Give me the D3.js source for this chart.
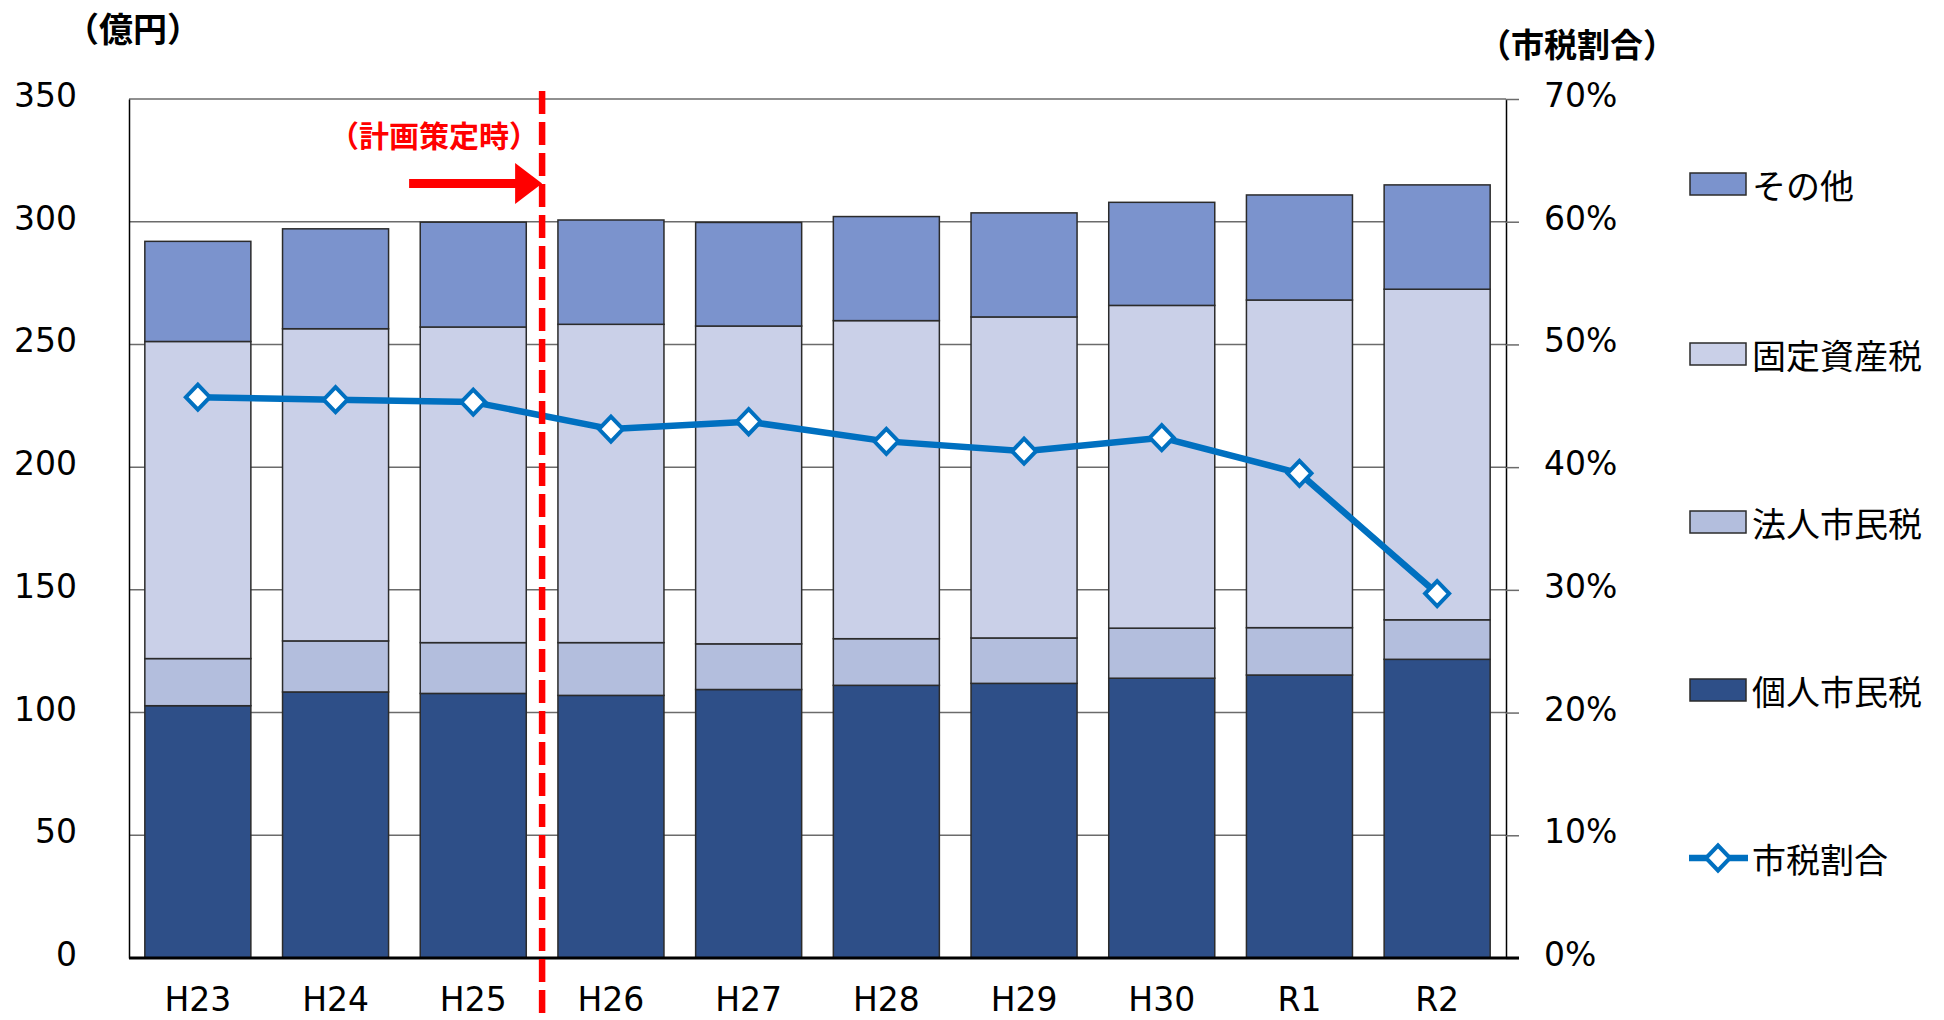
<!DOCTYPE html>
<meta charset="utf-8">
<style>
body { margin: 0; background: #fff; }
svg { display: block; }
.num { font-family: "DejaVu Sans", Verdana, sans-serif; font-size: 33px; fill: #000; }
.jp { font-family: "Noto Sans CJK JP", sans-serif; fill: #000; }
</style>
<body>
<script src="https://d3js.org/d3.v7.min.js"></script>
<script>
var width = 1944,
    height = 1020;

// data (億円, ratio)
var years = ["H23", "H24", "H25", "H26", "H27", "H28", "H29", "H30", "R1", "R2"];
var kojin = [102.8, 108.4, 107.8, 107.0, 109.4, 111.1, 111.9, 114.0, 115.3, 121.7];
var hojin = [19.2, 20.8, 20.7, 21.5, 18.6, 19.0, 18.5, 20.4, 19.3, 16.1];
var kotei = [129.2, 127.2, 128.6, 129.7, 129.5, 129.6, 130.8, 131.5, 133.5, 134.7];
var sonota = [40.8, 40.7, 42.7, 42.5, 42.2, 42.4, 42.4, 42.0, 42.8, 42.5];
var ratio = [0.457, 0.455, 0.453, 0.431, 0.437, 0.421, 0.413, 0.424, 0.395, 0.297];

var seriesKeys = ["個人市民税", "法人市民税", "固定資産税", "その他"];
var seriesColors = ["#2E4F88", "#B3BEDD", "#CAD0E8", "#7B93CD"];
var legendOrder = ["その他", "固定資産税", "法人市民税", "個人市民税"];
var leftTicks = [0, 50, 100, 150, 200, 250, 300, 350];
var rightTicks = [0, 0.1, 0.2, 0.3, 0.4, 0.5, 0.6, 0.7];
var planYear = "H26"; // plan line sits just before this year

var margin = {left: 129, right: 1506, top: 99, bottom: 958};
var lineColor = "#0070C0";

var svg = d3.select("body").append("svg")
    .attr("width", width)
    .attr("height", height);

var x = d3.scaleBand()
    .domain(years)
    .range([margin.left, margin.right])
    .paddingInner(0.23)
    .paddingOuter(0.115);

var y = d3.scaleLinear().domain([0, 350]).range([margin.bottom, margin.top]);
var yR = d3.scaleLinear().domain([0, 0.7]).range([margin.bottom, margin.top]);

var rows = years.map(function(yr, i) {
  return {year: yr, "個人市民税": kojin[i], "法人市民税": hojin[i], "固定資産税": kotei[i], "その他": sonota[i]};
});
var stacked = d3.stack().keys(seriesKeys)(rows);
var color = d3.scaleOrdinal().domain(seriesKeys).range(seriesColors);

// gridlines
svg.append("g")
  .selectAll("line")
  .data(leftTicks.filter(function(d) { return d > 0; }))
  .join("line")
    .attr("x1", margin.left)
    .attr("x2", margin.right)
    .attr("y1", function(d) { return y(d); })
    .attr("y2", function(d) { return y(d); })
    .attr("stroke", "#6b6b6b")
    .attr("stroke-width", 1.5);

// stacked bars
svg.append("g")
  .selectAll("g")
  .data(stacked)
  .join("g")
    .attr("fill", function(d) { return color(d.key); })
  .selectAll("rect")
  .data(function(d) { return d; })
  .join("rect")
    .attr("x", function(d) { return x(d.data.year); })
    .attr("width", x.bandwidth())
    .attr("y", function(d) { return y(d[1]); })
    .attr("height", function(d) { return y(d[0]) - y(d[1]); })
    .attr("stroke", "#2b2b2b")
    .attr("stroke-width", 1.5);

// left axis
var gL = svg.append("g")
    .attr("transform", "translate(" + margin.left + ",0)")
    .call(d3.axisLeft(y).tickValues(leftTicks).tickSize(0).tickPadding(52));
gL.select(".domain").attr("stroke", "#000").attr("stroke-width", 1.5);
gL.selectAll("text").attr("class", "num").attr("font-family", null).attr("font-size", null).attr("y", -3);

// right axis
var gR = svg.append("g")
    .attr("transform", "translate(" + margin.right + ",0)")
    .call(d3.axisRight(yR).tickValues(rightTicks).tickFormat(d3.format(".0%")).tickSize(13).tickSizeOuter(0).tickPadding(25));
gR.select(".domain").attr("stroke", "#000").attr("stroke-width", 1.5);
gR.selectAll(".tick line").attr("stroke", "#6b6b6b").attr("stroke-width", 1.5);
gR.selectAll("text").attr("class", "num").attr("font-family", null).attr("font-size", null).attr("y", -3);

// bottom axis
var gB = svg.append("g")
    .attr("transform", "translate(0," + margin.bottom + ")")
    .call(d3.axisBottom(x).tickSize(0).tickPadding(30));
gB.select(".domain").remove();
gB.selectAll("text").attr("class", "num").attr("font-family", null).attr("font-size", null);
svg.append("line")
    .attr("x1", margin.left).attr("x2", margin.right + 13)
    .attr("y1", margin.bottom).attr("y2", margin.bottom)
    .attr("stroke", "#000").attr("stroke-width", 3);

// ratio line
var cx = function(yr) { return x(yr) + x.bandwidth() / 2; };
var lineData = years.map(function(yr, i) { return [cx(yr), yR(ratio[i])]; });
svg.append("path")
    .attr("d", d3.line()(lineData))
    .attr("fill", "none")
    .attr("stroke", lineColor)
    .attr("stroke-width", 6.5)
    .attr("stroke-linejoin", "round");

function diamond(sel) {
  sel.attr("d", "M0,-12.5L12,0L0,12.5L-12,0Z")
    .attr("fill", "#fff")
    .attr("stroke", lineColor)
    .attr("stroke-width", 4);
}
svg.append("g")
  .selectAll("path")
  .data(lineData)
  .join("path")
    .attr("transform", function(d) { return "translate(" + d[0] + "," + d[1] + ")"; })
    .call(diamond);

// plan annotation
var step = x.step();
var planX = cx(planYear) - step / 2;
svg.append("line")
    .attr("x1", planX).attr("x2", planX)
    .attr("y1", 91).attr("y2", height)
    .attr("stroke", "#FF0000")
    .attr("stroke-width", 6.5)
    .attr("stroke-dasharray", "23,8");
svg.append("rect")
    .attr("x", planX - 133).attr("y", 179)
    .attr("width", 108).attr("height", 9)
    .attr("fill", "#FF0000");
svg.append("path")
    .attr("d", "M" + (planX - 27) + ",163L" + (planX) + ",183.5L" + (planX - 27) + ",204Z")
    .attr("fill", "#FF0000");
svg.append("text")
    .attr("class", "jp")
    .attr("x", planX - 108).attr("y", 134)
    .attr("text-anchor", "middle")
    .attr("dominant-baseline", "central")
    .attr("font-size", 30)
    .attr("font-weight", "bold")
    .style("fill", "#FF0000")
    .text("（計画策定時）");

// axis titles
svg.append("text")
    .attr("class", "jp")
    .attr("x", 133).attr("y", 27)
    .attr("text-anchor", "middle")
    .attr("dominant-baseline", "central")
    .attr("font-size", 34)
    .attr("font-weight", "bold")
    .text("（億円）");
svg.append("text")
    .attr("class", "jp")
    .attr("x", 1577).attr("y", 43)
    .attr("text-anchor", "middle")
    .attr("dominant-baseline", "central")
    .attr("font-size", 33)
    .attr("font-weight", "bold")
    .text("（市税割合）");

// legend
var legY = [184, 354, 522, 690];
var leg = svg.append("g");
legendOrder.forEach(function(k, i) {
  leg.append("rect")
      .attr("x", 1690).attr("y", legY[i] - 11)
      .attr("width", 56).attr("height", 22)
      .attr("fill", color(k))
      .attr("stroke", "#2b2b2b")
      .attr("stroke-width", 1.5);
  leg.append("text")
      .attr("class", "jp")
      .attr("x", 1752).attr("y", legY[i])
      .attr("dominant-baseline", "central")
      .attr("font-size", 34)
      .text(k);
});
leg.append("line")
    .attr("x1", 1689).attr("x2", 1748)
    .attr("y1", 858).attr("y2", 858)
    .attr("stroke", lineColor).attr("stroke-width", 6.5);
leg.append("path")
    .attr("transform", "translate(1718,858)")
    .call(diamond);
leg.append("text")
    .attr("class", "jp")
    .attr("x", 1752).attr("y", 858)
    .attr("dominant-baseline", "central")
    .attr("font-size", 34)
    .text("市税割合");
</script>
</body>
